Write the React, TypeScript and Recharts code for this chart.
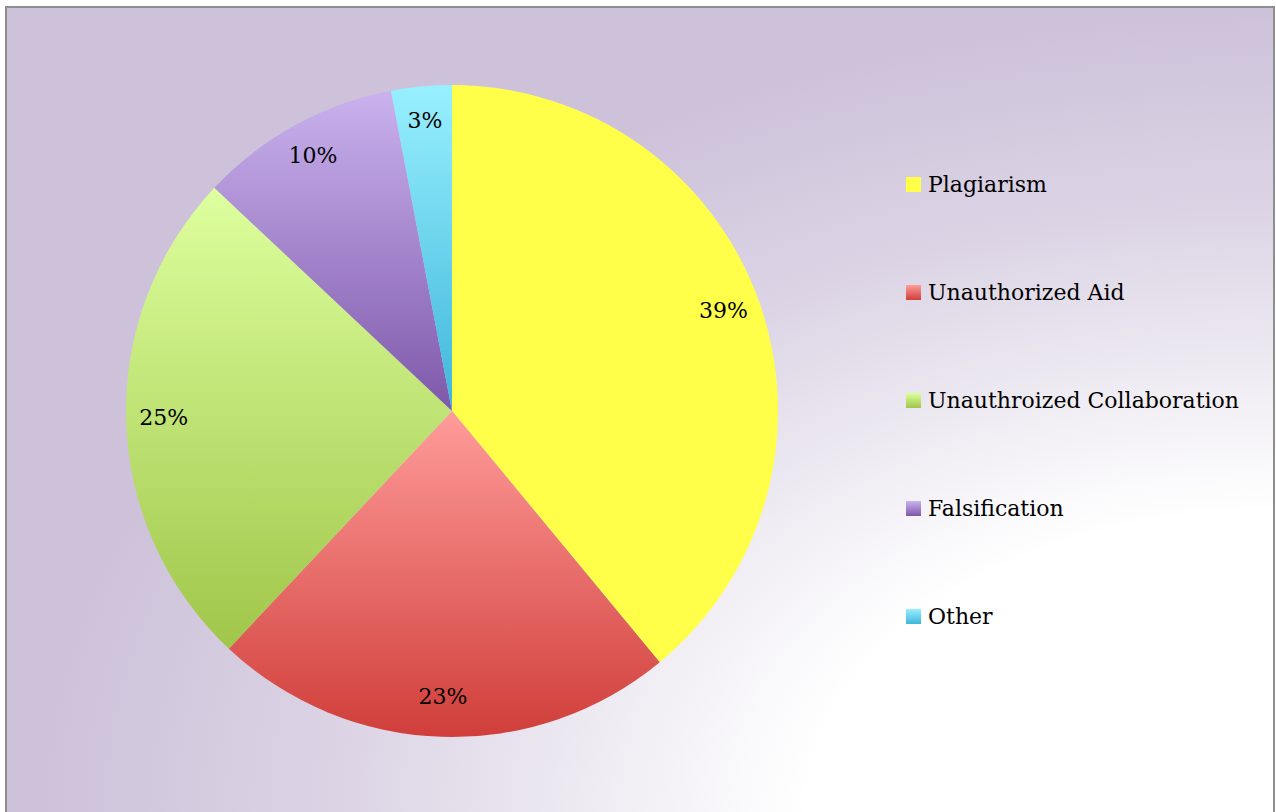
import React from 'react';
import { PieChart, Pie, Cell, Legend } from 'recharts';

const categories = ['Plagiarism', 'Unauthorized Aid', 'Unauthroized Collaboration', 'Falsification', 'Other'];
const shares = [39, 23, 25, 10, 3];
// top / bottom colours of each slice gradient
const topColors = ['#FFFF4A', '#FF9C9A', '#DEFF9E', '#CAB2EE', '#98F0FF'];
const bottomColors = ['#FFFF4A', '#D03E3A', '#A0C64A', '#7E58AA', '#3EB6DA'];

const data = categories.map((name, i) => ({ name, value: shares[i] }));

const FONT = '"DejaVu Serif", serif';
const RADIAN = Math.PI / 180;

const renderLabel = (props: any) => {
    const { cx, cy, midAngle, outerRadius, value } = props;
    const r = outerRadius * 0.885;
    const x = cx + r * Math.cos(-midAngle * RADIAN);
    const y = cy + r * Math.sin(-midAngle * RADIAN);
    return (
        <text x={x} y={y - 3} textAnchor="middle" dominantBaseline="central" fill="#000" fontFamily={FONT} fontSize={22}>
            {`${value}%`}
        </text>
    );
};

const renderLegend = () => (
    <div style={{ fontFamily: FONT, fontSize: 22, color: '#000' }}>
        {categories.map((name, i) => (
            <div key={name} style={{ display: 'flex', alignItems: 'center', height: 108 }}>
                <div
                    style={{
                        width: 15,
                        height: 15,
                        marginRight: 7,
                        background: `linear-gradient(${topColors[i]}, ${bottomColors[i]})`,
                    }}
                />
                <span>{name}</span>
            </div>
        ))}
    </div>
);

export default function App() {
    return (
        <div style={{ position: 'absolute', left: 0, top: 0, width: 1276, height: 812, overflow: 'hidden' }}>
            <div
                style={{
                    position: 'absolute',
                    left: 5,
                    top: 6,
                    width: 1266,
                    height: 820,
                    border: '2px solid #8e8e8e',
                    background:
                        'radial-gradient(1300px 840px at 1270px 806px, #ffffff 0%, #ffffff 36%, #ebe7f0 56%, #dcd4e5 72%, #cdc2da 95%)',
                }}
            />
            <div style={{ position: 'absolute', left: 0, top: 0 }}>
                <PieChart width={1276} height={812}>
                    <defs>
                        {categories.map((name, i) => (
                            <linearGradient key={name} id={`slice-${i}`} x1="0" y1="0" x2="0" y2="1">
                                <stop offset="0%" stopColor={topColors[i]} />
                                <stop offset="100%" stopColor={bottomColors[i]} />
                            </linearGradient>
                        ))}
                    </defs>
                    <Pie
                        data={data}
                        dataKey="value"
                        nameKey="name"
                        cx={447}
                        cy={406}
                        outerRadius={326}
                        startAngle={90}
                        endAngle={-270}
                        stroke="none"
                        label={renderLabel}
                        labelLine={false}
                        isAnimationActive={false}
                    >
                        {data.map((d, i) => (
                            <Cell key={d.name} fill={`url(#slice-${i})`} />
                        ))}
                    </Pie>
                    <Legend
                        layout="vertical"
                        content={renderLegend}
                        wrapperStyle={{ left: 906, top: 130, width: 360 }}
                    />
                </PieChart>
            </div>
        </div>
    );
}
